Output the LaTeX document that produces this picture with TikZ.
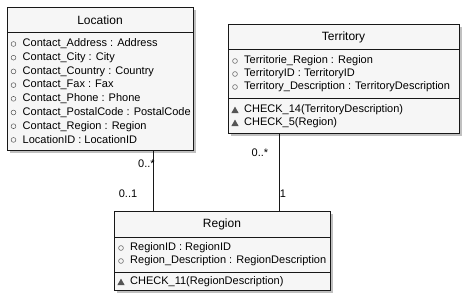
\documentclass[tikz,border=0pt]{standalone}
\usepackage{fontspec}
\setmainfont{Liberation Sans}
\usepackage{xcolor}
\usetikzlibrary{shadows}
\definecolor{fond}{HTML}{F6F6F6}
\definecolor{bordure}{HTML}{181818}
\definecolor{marque}{HTML}{555555}

\begin{document}
\begin{tikzpicture}[x=1pt,y=-1pt]
% Styles (MODIFIABLES)
\tikzstyle{classe}=[draw=bordure,fill=fond,line width=0.9pt,inner sep=0pt,anchor=north west,
  drop shadow={shadow xshift=3pt,shadow yshift=-3pt,fill=black!55,opacity=0.45}]
\tikzstyle{separation}=[draw=bordure,line width=0.9pt]
\tikzstyle{titre}=[font=\fontsize{12}{14}\selectfont,inner sep=0pt]
\tikzstyle{champ}=[font=\fontsize{11}{13}\selectfont,inner sep=0pt,anchor=west]
\tikzstyle{lien}=[draw=bordure,line width=0.8pt]
\tikzstyle{cardinalite}=[font=\fontsize{11}{13}\selectfont,inner sep=0pt]
% Macros : un attribut (cercle) et une methode (triangle)
\def\Attribut#1#2#3#4{%
  \draw[marque,line width=0.5pt] (#2,#3) circle[radius=2.4pt];
  \node[champ] (#1) at (#2+9,#3) {#4};}
\def\Methode#1#2#3#4{%
  \fill[marque] (#2-3.6,#3+3) -- (#2+3.6,#3+3) -- (#2,#3-3.4) -- cycle;
  \node[champ] (#1) at (#2+9,#3) {#4};}
\useasboundingbox (0,0) rectangle (472,306);
% Classes
\node[classe,minimum width=186pt,minimum height=143pt] (loc) at (7,7) {};
\node[classe,minimum width=231pt,minimum height=109pt] (terr) at (228,24) {};
\node[classe,minimum width=216pt,minimum height=79pt] (reg) at (114,211) {};
% Separations
\draw[separation] (7,32) -- (193,32);
\draw[separation] (228,49) -- (459,49);
\draw[separation] (228,98) -- (459,98);
\draw[separation] (114,237) -- (330,237);
\draw[separation] (114,272) -- (330,272);
% Titres
\node[titre] (locT) at (100,20) {Location};
\node[titre] (terrT) at (343.5,37) {Territory};
\node[titre] (regT) at (222,224) {Region};
% Location
\Attribut{locA}{13.5}{44}{Contact\_Address : Address}
\Attribut{locB}{13.5}{57.7}{Contact\_City : City}
\Attribut{locC}{13.5}{71.4}{Contact\_Country : Country}
\Attribut{locD}{13.5}{85.1}{Contact\_Fax : Fax}
\Attribut{locE}{13.5}{98.8}{Contact\_Phone : Phone}
\Attribut{locF}{13.5}{112.5}{Contact\_PostalCode : PostalCode}
\Attribut{locG}{13.5}{126.2}{Contact\_Region : Region}
\Attribut{locH}{13.5}{139.9}{LocationID : LocationID}
% Territory
\Attribut{terrA}{235}{61}{Territorie\_Region : Region}
\Attribut{terrB}{235}{74}{TerritoryID : TerritoryID}
\Attribut{terrC}{235}{87}{Territory\_Description : TerritoryDescription}
\Methode{terrM}{235}{110}{CHECK\_14(TerritoryDescription)}
\Methode{terrN}{235}{123}{CHECK\_5(Region)}
% Region
\Attribut{regA}{121}{248}{RegionID : RegionID}
\Attribut{regB}{121}{261}{Region\_Description : RegionDescription}
\Methode{regM}{121}{282}{CHECK\_11(RegionDescription)}
% Liens
\coordinate (axeLoc) at (153,0);
\coordinate (axeTerr) at (279,0);
\draw[lien] (loc.south -| axeLoc) -- (reg.north -| axeLoc);
\draw[lien] (terr.south -| axeTerr) -- (reg.north -| axeTerr);
% Cardinalites
\node[cardinalite] (cLoc) at (146.5,164) {0..*};
\node[cardinalite] (cRegL) at (128,194) {0..1};
\node[cardinalite] (cTerr) at (260,153) {0..*};
\node[cardinalite] (cRegT) at (283,194) {1};
\end{tikzpicture}
\end{document}
